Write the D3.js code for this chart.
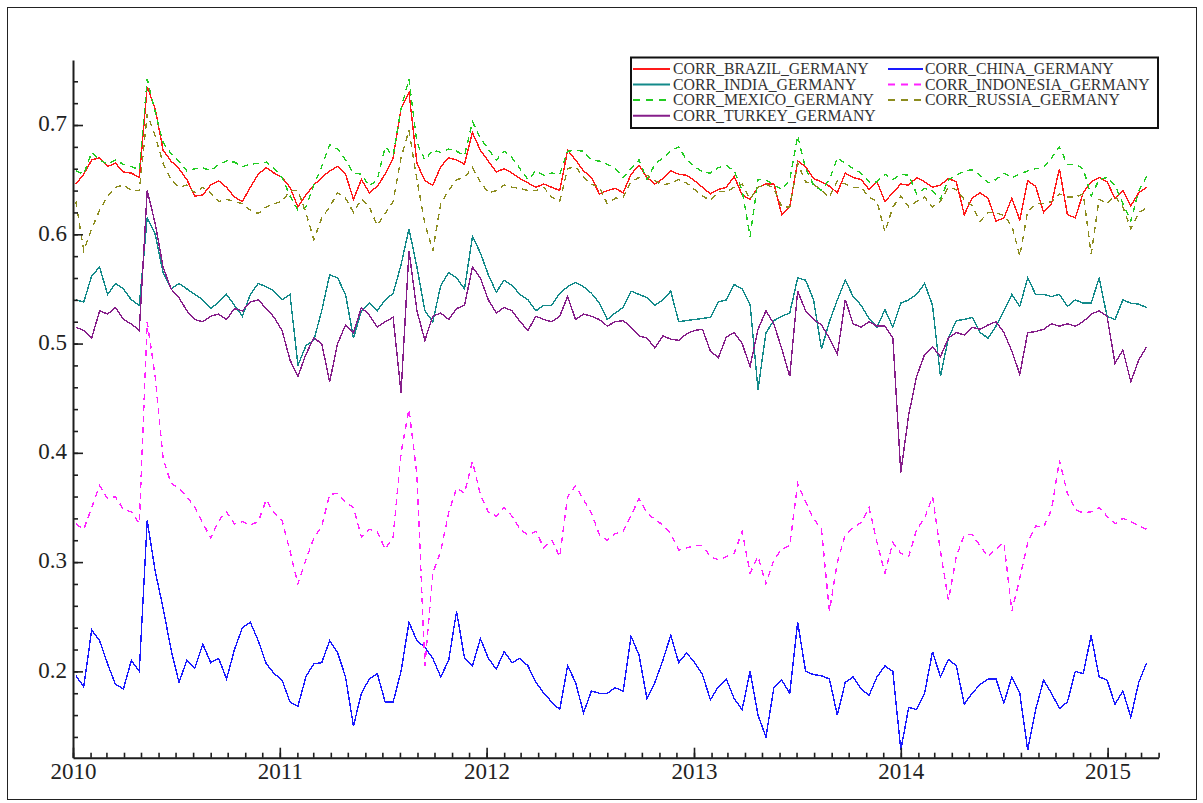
<!DOCTYPE html>
<html>
<head>
<meta charset="utf-8">
<script src="https://cdn.jsdelivr.net/npm/d3@7"></script>
<style>
  body { margin: 0; background: #fff; }
  svg { display: block; }
  text { font-family: "Liberation Serif", "Times New Roman", serif; }
</style>
</head>
<body>
<svg id="chart" width="1203" height="803"></svg>
<script>
// Bi-weekly observations of rolling correlations with Germany
const firstDate = "2010-01-06";
const stepDays = 14;

const brazil = [
  0.646,0.655,0.668,0.670,0.662,0.665,0.657,0.656,0.652,0.735,
  0.715,0.677,0.667,0.660,0.650,0.635,0.636,0.645,0.649,0.643,
  0.634,0.630,0.643,0.655,0.661,0.656,0.652,0.643,0.625,0.636,
  0.645,0.652,0.658,0.662,0.655,0.632,0.650,0.638,0.644,0.655,
  0.670,0.715,0.730,0.665,0.649,0.645,0.662,0.670,0.668,0.664,
  0.693,0.677,0.667,0.657,0.660,0.656,0.651,0.647,0.643,0.646,
  0.643,0.640,0.677,0.668,0.658,0.652,0.637,0.640,0.642,0.638,
  0.655,0.663,0.652,0.646,0.651,0.658,0.655,0.654,0.649,0.643,
  0.637,0.641,0.643,0.653,0.636,0.632,0.643,0.646,0.646,0.618,
  0.625,0.667,0.662,0.651,0.648,0.644,0.638,0.656,0.652,0.650,
  0.641,0.648,0.630,0.638,0.646,0.645,0.652,0.648,0.643,0.645,
  0.651,0.648,0.618,0.633,0.638,0.633,0.612,0.615,0.633,0.613,
  0.649,0.644,0.620,0.628,0.660,0.618,0.615,0.638,0.648,0.652,
  0.648,0.633,0.640,0.626,0.638,0.643
];
const china = [
  0.196,0.186,0.238,0.228,0.207,0.188,0.184,0.210,0.200,0.338,
  0.292,0.258,0.220,0.190,0.210,0.203,0.225,0.208,0.212,0.193,
  0.220,0.240,0.245,0.228,0.207,0.198,0.192,0.172,0.168,0.195,
  0.207,0.208,0.228,0.217,0.195,0.150,0.180,0.193,0.198,0.172,
  0.172,0.200,0.245,0.228,0.222,0.212,0.195,0.210,0.255,0.212,
  0.205,0.230,0.212,0.202,0.218,0.208,0.212,0.205,0.190,0.180,
  0.172,0.165,0.205,0.190,0.162,0.182,0.180,0.180,0.185,0.182,
  0.232,0.215,0.175,0.190,0.210,0.233,0.208,0.217,0.208,0.197,
  0.174,0.186,0.193,0.175,0.165,0.200,0.160,0.140,0.185,0.192,
  0.180,0.245,0.200,0.197,0.196,0.193,0.160,0.190,0.195,0.184,
  0.178,0.195,0.205,0.200,0.128,0.167,0.165,0.180,0.218,0.195,
  0.211,0.205,0.170,0.180,0.188,0.193,0.193,0.171,0.195,0.180,
  0.128,0.165,0.192,0.180,0.166,0.172,0.200,0.198,0.233,0.195,
  0.192,0.170,0.182,0.158,0.190,0.208
];
const india = [
  0.540,0.538,0.562,0.570,0.545,0.555,0.550,0.540,0.535,0.615,
  0.600,0.565,0.550,0.555,0.550,0.545,0.540,0.532,0.538,0.545,
  0.535,0.525,0.545,0.555,0.552,0.548,0.540,0.545,0.480,0.498,
  0.503,0.530,0.563,0.560,0.545,0.505,0.530,0.537,0.530,0.540,
  0.546,0.572,0.605,0.570,0.530,0.520,0.553,0.565,0.560,0.550,
  0.598,0.583,0.563,0.547,0.558,0.553,0.545,0.540,0.530,0.535,
  0.535,0.546,0.552,0.556,0.552,0.546,0.537,0.522,0.528,0.533,
  0.548,0.545,0.542,0.535,0.540,0.548,0.520,0.521,0.522,0.523,
  0.524,0.538,0.540,0.554,0.550,0.536,0.458,0.510,0.521,0.525,
  0.528,0.560,0.558,0.540,0.495,0.520,0.540,0.558,0.543,0.535,
  0.523,0.515,0.531,0.515,0.537,0.540,0.545,0.555,0.535,0.470,
  0.505,0.521,0.522,0.524,0.510,0.505,0.516,0.530,0.545,0.534,
  0.560,0.545,0.545,0.543,0.545,0.534,0.540,0.537,0.537,0.560,
  0.525,0.522,0.540,0.537,0.536,0.533
];
const indonesia = [
  0.335,0.330,0.350,0.370,0.358,0.360,0.348,0.346,0.335,0.520,
  0.470,0.395,0.372,0.368,0.360,0.350,0.336,0.322,0.338,0.346,
  0.335,0.337,0.334,0.337,0.357,0.345,0.338,0.310,0.280,0.302,
  0.322,0.333,0.362,0.363,0.355,0.350,0.323,0.330,0.328,0.312,
  0.323,0.400,0.440,0.380,0.205,0.290,0.310,0.345,0.368,0.363,
  0.392,0.362,0.346,0.342,0.350,0.342,0.330,0.325,0.328,0.313,
  0.320,0.305,0.360,0.370,0.357,0.345,0.325,0.320,0.326,0.328,
  0.343,0.358,0.345,0.339,0.334,0.326,0.311,0.313,0.315,0.315,
  0.305,0.302,0.305,0.308,0.328,0.290,0.305,0.280,0.302,0.312,
  0.315,0.372,0.355,0.340,0.330,0.255,0.300,0.325,0.332,0.336,
  0.350,0.318,0.290,0.318,0.308,0.305,0.330,0.340,0.360,0.310,
  0.265,0.305,0.325,0.325,0.315,0.305,0.312,0.318,0.255,0.285,
  0.318,0.333,0.332,0.348,0.393,0.363,0.348,0.345,0.346,0.350,
  0.342,0.335,0.340,0.337,0.333,0.330
];
const mexico = [
  0.658,0.655,0.675,0.668,0.664,0.668,0.664,0.662,0.659,0.742,
  0.712,0.684,0.674,0.667,0.658,0.660,0.661,0.658,0.664,0.667,
  0.666,0.662,0.664,0.665,0.666,0.660,0.652,0.635,0.622,0.625,
  0.645,0.662,0.682,0.678,0.668,0.656,0.655,0.644,0.650,0.680,
  0.672,0.715,0.742,0.684,0.668,0.677,0.675,0.678,0.676,0.672,
  0.703,0.688,0.678,0.668,0.676,0.670,0.660,0.650,0.658,0.654,
  0.656,0.655,0.676,0.677,0.676,0.668,0.667,0.664,0.660,0.652,
  0.660,0.668,0.650,0.664,0.670,0.676,0.680,0.668,0.662,0.657,
  0.656,0.661,0.663,0.658,0.640,0.598,0.650,0.650,0.645,0.641,
  0.650,0.690,0.660,0.645,0.640,0.650,0.670,0.665,0.660,0.656,
  0.648,0.648,0.655,0.650,0.655,0.654,0.637,0.642,0.640,0.632,
  0.650,0.654,0.658,0.659,0.654,0.647,0.650,0.656,0.652,0.655,
  0.658,0.660,0.661,0.670,0.680,0.664,0.664,0.660,0.635,0.650,
  0.652,0.645,0.628,0.612,0.640,0.653
];
const russia = [
  0.630,0.585,0.605,0.622,0.635,0.643,0.645,0.640,0.640,0.710,
  0.690,0.665,0.650,0.643,0.645,0.638,0.643,0.638,0.630,0.632,
  0.630,0.628,0.622,0.619,0.625,0.628,0.630,0.640,0.640,0.620,
  0.595,0.615,0.625,0.638,0.633,0.620,0.632,0.625,0.608,0.619,
  0.630,0.670,0.695,0.650,0.610,0.585,0.628,0.640,0.650,0.652,
  0.661,0.648,0.638,0.640,0.645,0.643,0.642,0.640,0.640,0.643,
  0.634,0.630,0.660,0.662,0.652,0.646,0.643,0.628,0.633,0.634,
  0.648,0.652,0.654,0.649,0.645,0.647,0.650,0.647,0.641,0.635,
  0.631,0.639,0.639,0.643,0.646,0.632,0.643,0.646,0.642,0.625,
  0.625,0.665,0.648,0.646,0.640,0.634,0.649,0.646,0.643,0.643,
  0.634,0.630,0.602,0.625,0.635,0.625,0.630,0.634,0.625,0.630,
  0.643,0.641,0.632,0.626,0.612,0.620,0.620,0.617,0.608,0.580,
  0.621,0.628,0.628,0.630,0.637,0.634,0.634,0.637,0.582,0.632,
  0.628,0.635,0.625,0.605,0.620,0.624
];
const turkey = [
  0.515,0.512,0.505,0.530,0.527,0.533,0.522,0.518,0.512,0.640,
  0.610,0.570,0.550,0.542,0.530,0.522,0.520,0.525,0.527,0.522,
  0.532,0.530,0.538,0.540,0.532,0.524,0.512,0.485,0.470,0.490,
  0.505,0.500,0.465,0.500,0.517,0.510,0.533,0.526,0.515,0.520,
  0.524,0.455,0.585,0.530,0.503,0.525,0.528,0.522,0.532,0.535,
  0.570,0.560,0.540,0.528,0.533,0.530,0.520,0.512,0.525,0.522,
  0.520,0.525,0.543,0.522,0.527,0.525,0.522,0.516,0.520,0.521,
  0.515,0.507,0.505,0.496,0.507,0.504,0.503,0.509,0.512,0.513,
  0.493,0.487,0.506,0.510,0.500,0.479,0.513,0.530,0.518,0.495,
  0.470,0.548,0.530,0.522,0.517,0.505,0.490,0.540,0.518,0.515,
  0.520,0.516,0.516,0.505,0.382,0.435,0.470,0.490,0.497,0.488,
  0.505,0.510,0.508,0.515,0.513,0.517,0.520,0.510,0.493,0.472,
  0.510,0.511,0.513,0.518,0.516,0.518,0.516,0.520,0.527,0.530,
  0.525,0.482,0.494,0.465,0.485,0.497
];

const seriesNames = [
  "CORR_BRAZIL_GERMANY", "CORR_CHINA_GERMANY", "CORR_INDIA_GERMANY",
  "CORR_INDONESIA_GERMANY", "CORR_MEXICO_GERMANY", "CORR_RUSSIA_GERMANY",
  "CORR_TURKEY_GERMANY"
];
const seriesValues = [brazil, china, india, indonesia, mexico, russia, turkey];
const seriesColors = ["#ff1a1a", "#1a1aff", "#138a8a", "#ff22ff", "#22cc22", "#8c8c1e", "#861e8a"];
const seriesDashed = [false, false, false, true, true, true, false];

const yTickValues = [0.2, 0.3, 0.4, 0.5, 0.6, 0.7];
const xTickYears = [2010, 2011, 2012, 2013, 2014, 2015];

// ---------------------------------------------------------------
const svg = d3.select("#chart");
const parse = d3.utcParse("%Y-%m-%d");
const start = parse(firstDate);
const dates = brazil.map((_, i) => d3.utcDay.offset(start, i * stepDays));

const x = d3.scaleUtc()
  .domain([new Date(Date.UTC(2010, 0, 1)), new Date(Date.UTC(2015, 3, 1))])
  .range([73, 1158.6]);
const y = d3.scaleLinear().domain([0.121, 0.7595]).range([757.7, 60]);

// outer frame
svg.append("rect")
  .attr("x", 7.5).attr("y", 7.5).attr("width", 1189).attr("height", 792)
  .attr("fill", "none").attr("stroke", "#222").attr("stroke-width", 1);

// series lines
const line = d3.line().x((d, i) => x(dates[i])).y(d => y(d));
const plot = svg.append("g");
seriesValues.forEach((vals, k) => {
  plot.append("path")
    .datum(vals)
    .attr("d", line)
    .attr("fill", "none")
    .attr("stroke", seriesColors[k])
    .attr("stroke-width", 1.4)
    .attr("shape-rendering", "crispEdges")
    .attr("stroke-dasharray", seriesDashed[k] ? "6,5" : null);
});

// axes with inward ticks
const axisColor = "#1e1e1e";
const yMinor = d3.range(0.14, 0.7501, 0.02).map(v => +v.toFixed(2));
svg.append("g")
  .attr("transform", "translate(73,0)")
  .call(d3.axisLeft(y).tickValues(yMinor).tickSizeInner(-5).tickSizeOuter(0).tickFormat(""))
  .call(g => g.select(".domain").remove());
const yAxis = svg.append("g")
  .attr("transform", "translate(73,0)")
  .call(d3.axisLeft(y).tickValues(yTickValues).tickSizeInner(-10).tickSizeOuter(0)
    .tickPadding(6).tickFormat(d3.format(".1f")));
yAxis.selectAll("text").attr("font-size", 23).attr("fill", "#222")
  .attr("font-family", "'Liberation Serif', serif").attr("dy", "0.25em");

const xMinor = d3.utcMonth.range(new Date(Date.UTC(2010, 0, 1)), new Date(Date.UTC(2015, 3, 2)));
svg.append("g")
  .attr("transform", "translate(0,757.7)")
  .call(d3.axisBottom(x).tickValues(xMinor).tickSizeInner(-5).tickSizeOuter(0).tickFormat(""))
  .call(g => g.select(".domain").remove());
const xAxis = svg.append("g")
  .attr("transform", "translate(0,757.7)")
  .call(d3.axisBottom(x)
    .tickValues(xTickYears.map(yr => new Date(Date.UTC(yr, 0, 1))))
    .tickSizeInner(-10).tickSizeOuter(0).tickPadding(4.5)
    .tickFormat(d3.utcFormat("%Y")));
xAxis.selectAll("text").attr("font-size", 23).attr("fill", "#222")
  .attr("font-family", "'Liberation Serif', serif");

svg.selectAll(".tick line").attr("stroke", axisColor).attr("stroke-width", 1.6);
svg.selectAll(".domain").attr("stroke", axisColor).attr("stroke-width", 2);

// legend: two columns, filled row by row
const legend = svg.append("g");
legend.append("rect")
  .attr("x", 631).attr("y", 57.5).attr("width", 527).attr("height", 70.5)
  .attr("fill", "#fff").attr("stroke", "#111").attr("stroke-width", 2);
const legendCols = [{ x0: 633, x1: 670, tx: 673 }, { x0: 888, x1: 923, tx: 925 }];
const legendRowY = [69, 84.5, 100, 115.7];
seriesNames.forEach((name, k) => {
  const col = legendCols[k % 2];
  const cy = legendRowY[Math.floor(k / 2)];
  legend.append("line")
    .attr("x1", col.x0).attr("x2", col.x1).attr("y1", cy).attr("y2", cy)
    .attr("stroke", seriesColors[k]).attr("stroke-width", 2)
    .attr("stroke-dasharray", seriesDashed[k] ? "7,6" : null);
  legend.append("text")
    .attr("x", col.tx).attr("y", cy + 5)
    .attr("font-size", 15.8).attr("fill", "#333")
    .text(name);
});
</script>
</body>
</html>
